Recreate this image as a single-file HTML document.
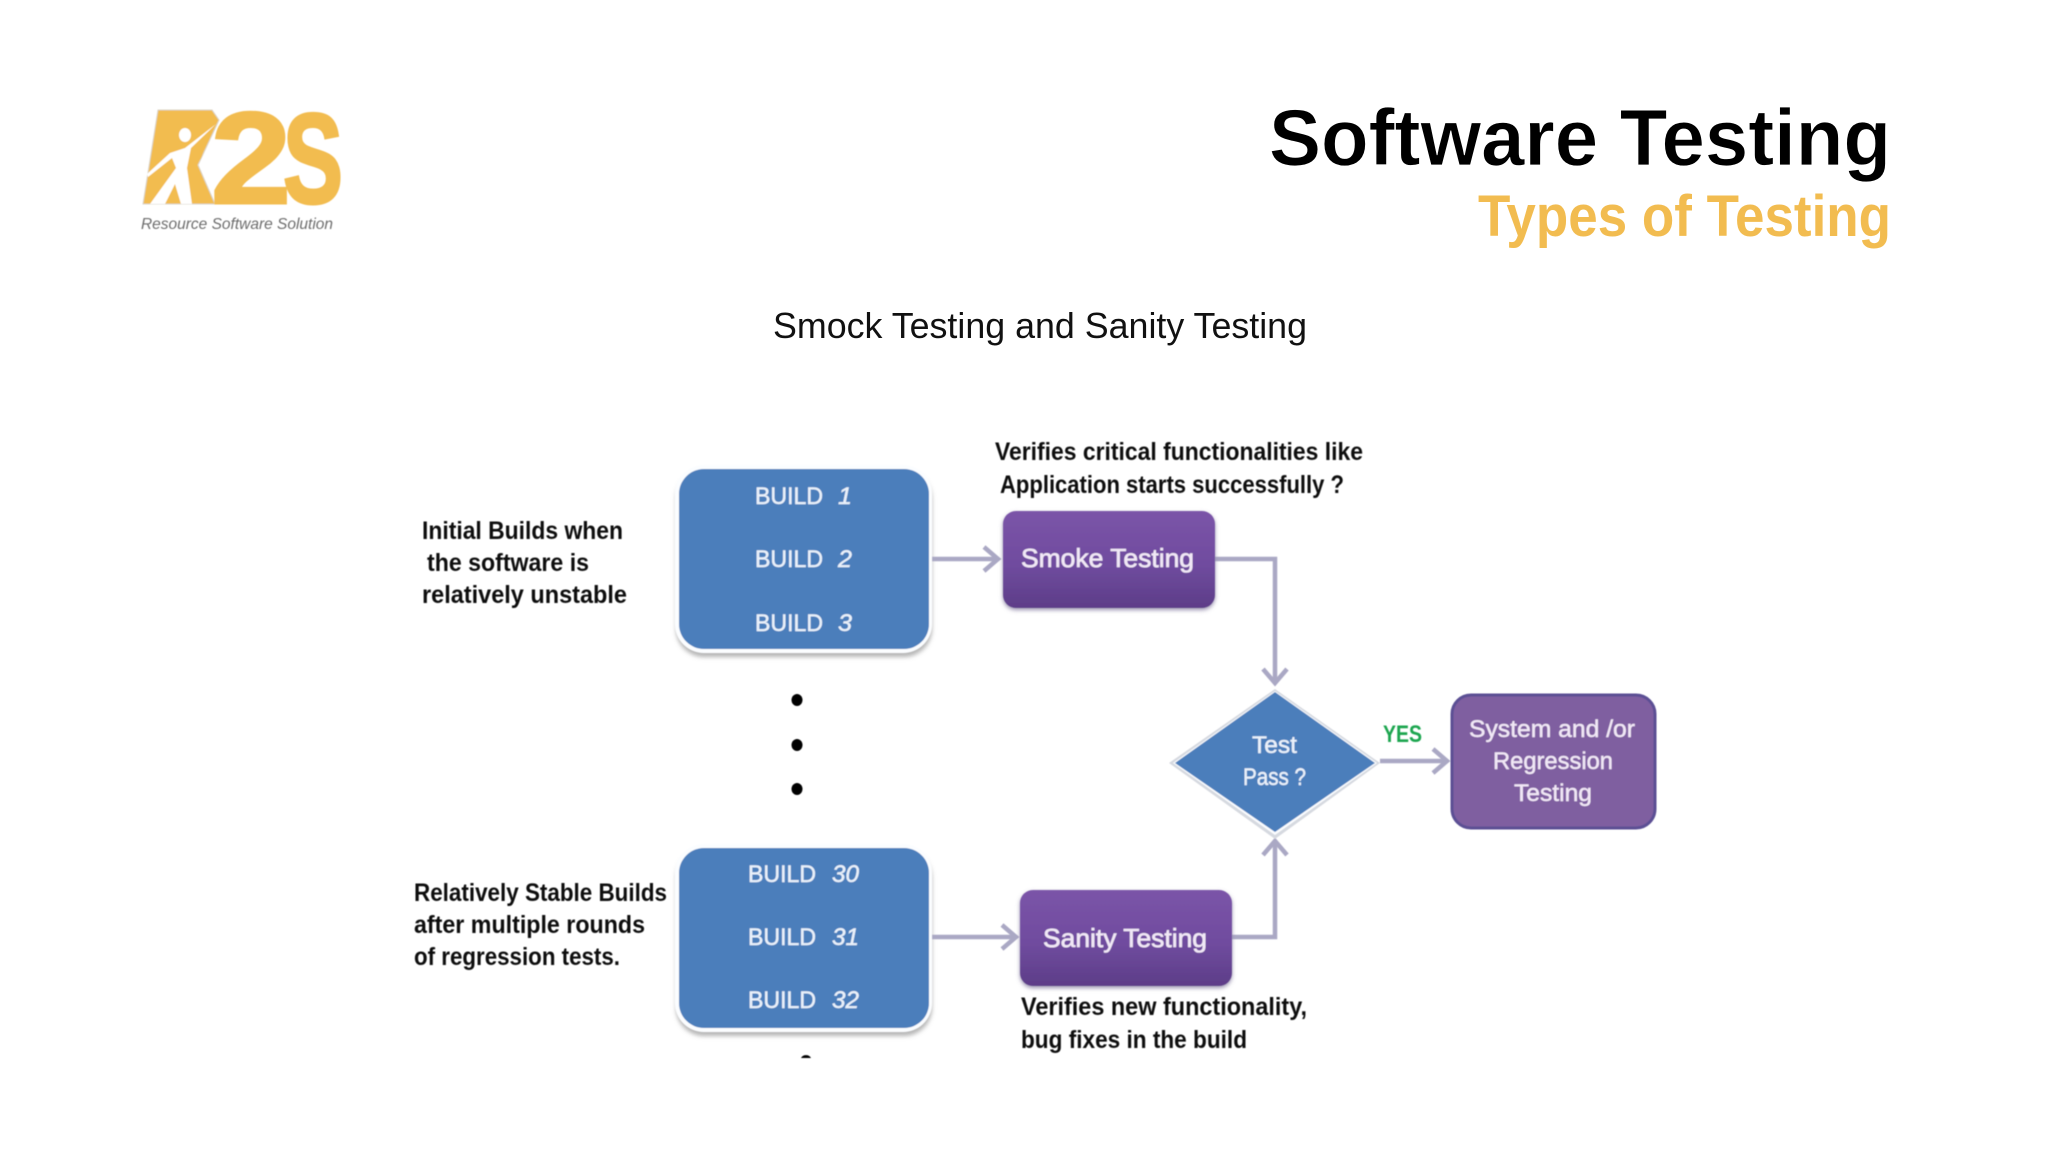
<!DOCTYPE html>
<html lang="en">
<head>
<meta charset="utf-8">
<title>Software Testing - Types of Testing</title>
<style>
html,body{margin:0;padding:0;background:#fff;}
body{width:2048px;height:1152px;overflow:hidden;}
svg{display:block;}
text{font-family:"Liberation Sans",sans-serif;}
</style>
</head>
<body>
<svg width="2048" height="1152" viewBox="0 0 2048 1152" xmlns="http://www.w3.org/2000/svg">
<defs>
<linearGradient id="p" x1="0" y1="0" x2="0" y2="1">
<stop offset="0" stop-color="#7b54a8"/><stop offset=".55" stop-color="#704c9f"/><stop offset="1" stop-color="#5d3d88"/>
</linearGradient>
<filter id="sh" x="-10%" y="-10%" width="120%" height="120%"><feGaussianBlur stdDeviation="2"/></filter>
<filter id="soft" x="-5%" y="-5%" width="110%" height="110%"><feGaussianBlur stdDeviation="0.6"/></filter>
</defs>
<rect width="2048" height="1152" fill="#ffffff"/>

<!-- logo -->
<g filter="url(#soft)">
<polygon points="158,110 212,110 219,120 198,165 215,204 143,204" fill="#f2bc50" stroke="#d9d4c8" stroke-width="1"/>
<text x="160" y="200" font-size="120" font-weight="700" fill="#f2bc50" textLength="48" lengthAdjust="spacingAndGlyphs">R</text>
<text x="211" y="203" font-size="130" font-weight="700" fill="#f2bc50" stroke="#f2bc50" stroke-width="3" textLength="80" lengthAdjust="spacingAndGlyphs">2</text>
<text x="283" y="203" font-size="128" font-weight="700" fill="#f2bc50" stroke="#f2bc50" stroke-width="3" textLength="60" lengthAdjust="spacingAndGlyphs">S</text>
<g fill="#fff">
<ellipse cx="185" cy="135" rx="6" ry="7"/>
<polygon points="216,124 191,148 187,168 192,204 181,204 175,184 165,204 150,204 176,168 172,158 148,177 147,174 170,153 185,148"/>
</g>
<text x="141" y="229" font-size="16" font-style="italic" fill="#6d6d6d" textLength="192" lengthAdjust="spacingAndGlyphs">Resource Software Solution</text>
</g>

<!-- titles -->
<text x="1269" y="165" font-size="80" font-weight="700" fill="#000" stroke="#fff" stroke-width="0.8" textLength="622" lengthAdjust="spacingAndGlyphs">Software Testing</text>
<text x="1478" y="236" font-size="58" font-weight="700" fill="#f2bc50" textLength="413" lengthAdjust="spacingAndGlyphs">Types of Testing</text>
<text x="773" y="338" font-size="36" fill="#111" textLength="534" lengthAdjust="spacingAndGlyphs">Smock Testing and Sanity Testing</text>

<g filter="url(#soft)">
<!-- build boxes -->
<rect x="676" y="471" width="256" height="186" rx="28" fill="#b5b5b5" filter="url(#sh)"/>
<rect x="675" y="465" width="257" height="188" rx="29" fill="#fbfdff"/>
<rect x="679" y="469" width="250" height="180" rx="25" fill="#4b7ebb"/>
<rect x="676" y="850" width="256" height="186" rx="28" fill="#b5b5b5" filter="url(#sh)"/>
<rect x="675" y="844" width="257" height="188" rx="29" fill="#fbfdff"/>
<rect x="679" y="848" width="250" height="180" rx="25" fill="#4b7ebb"/>

<!-- connectors -->
<g fill="none" stroke="#aaa8c4" stroke-width="4.5">
<path d="M932 559H998"/><path d="M984 547L998 559L984 571"/>
<path d="M1215 559H1275V683"/><path d="M1263 669L1275 683L1287 669"/>
<path d="M1380 761H1447"/><path d="M1433 749L1447 761L1433 773"/>
<path d="M932 937H1016"/><path d="M1002 925L1016 937L1002 949"/>
<path d="M1232 937H1275V841"/><path d="M1263 855L1275 841L1287 855"/>
</g>

<!-- process boxes -->
<rect x="1003" y="513" width="212" height="97" rx="13" fill="#9a93b0" filter="url(#sh)"/>
<rect x="1003" y="511" width="212" height="97" rx="13" fill="url(#p)"/>
<rect x="1020" y="892" width="212" height="96" rx="13" fill="#9a93b0" filter="url(#sh)"/>
<rect x="1020" y="890" width="212" height="96" rx="13" fill="url(#p)"/>

<!-- diamond -->
<polygon points="1275,689 1380,763 1275,839 1169,763" fill="#d6d9e0"/>
<polygon points="1275,691 1377,763 1275,835 1173,763" fill="#fbfdff"/>
<polygon points="1275,692 1375,763 1275,832 1175,763" fill="#4b7ebb"/>

<!-- system box -->
<rect x="1452" y="695" width="203" height="133" rx="19" fill="#7f5fa0" stroke="#5b4f94" stroke-width="3"/>

<!-- dots -->
<g fill="#000">
<ellipse cx="797" cy="700" rx="5.5" ry="6"/><ellipse cx="797" cy="745" rx="5.5" ry="6"/><ellipse cx="797" cy="789" rx="5.5" ry="6"/>
<path d="M801 1058a5.5 5 0 0 1 10 0z"/>
</g>

<!-- black labels -->
<g fill="#111" font-size="25" font-weight="700">
<text x="995" y="460" textLength="368" lengthAdjust="spacingAndGlyphs">Verifies critical functionalities like</text>
<text x="1000" y="493" textLength="344" lengthAdjust="spacingAndGlyphs">Application starts successfully ?</text>
<text x="422" y="539" textLength="201" lengthAdjust="spacingAndGlyphs">Initial Builds when</text>
<text x="427" y="571" textLength="162" lengthAdjust="spacingAndGlyphs">the software is</text>
<text x="422" y="603" textLength="205" lengthAdjust="spacingAndGlyphs">relatively unstable</text>
<text x="414" y="901" textLength="253" lengthAdjust="spacingAndGlyphs">Relatively Stable Builds</text>
<text x="414" y="933" textLength="231" lengthAdjust="spacingAndGlyphs">after multiple rounds</text>
<text x="414" y="965" textLength="206" lengthAdjust="spacingAndGlyphs">of regression tests.</text>
<text x="1021" y="1015" textLength="286" lengthAdjust="spacingAndGlyphs">Verifies new functionality,</text>
<text x="1021" y="1048" textLength="226" lengthAdjust="spacingAndGlyphs">bug fixes in the build</text>
</g>

<!-- white labels -->
<g fill="#eaf1fa" font-size="24" stroke="#eaf1fa" stroke-width="0.4">
<text x="755" y="504" textLength="68" lengthAdjust="spacingAndGlyphs">BUILD</text>
<text x="838" y="504" font-style="italic" textLength="14" lengthAdjust="spacingAndGlyphs">1</text>
<text x="755" y="567" textLength="68" lengthAdjust="spacingAndGlyphs">BUILD</text>
<text x="838" y="567" font-style="italic" textLength="14" lengthAdjust="spacingAndGlyphs">2</text>
<text x="755" y="631" textLength="68" lengthAdjust="spacingAndGlyphs">BUILD</text>
<text x="838" y="631" font-style="italic" textLength="14" lengthAdjust="spacingAndGlyphs">3</text>
<text x="748" y="882" textLength="68" lengthAdjust="spacingAndGlyphs">BUILD</text>
<text x="832" y="882" font-style="italic" textLength="27" lengthAdjust="spacingAndGlyphs">30</text>
<text x="748" y="945" textLength="68" lengthAdjust="spacingAndGlyphs">BUILD</text>
<text x="832" y="945" font-style="italic" textLength="27" lengthAdjust="spacingAndGlyphs">31</text>
<text x="748" y="1008" textLength="68" lengthAdjust="spacingAndGlyphs">BUILD</text>
<text x="832" y="1008" font-style="italic" textLength="27" lengthAdjust="spacingAndGlyphs">32</text>
<text x="1252" y="753" textLength="45" lengthAdjust="spacingAndGlyphs">Test</text>
<text x="1243" y="785" textLength="63" lengthAdjust="spacingAndGlyphs">Pass ?</text>
</g>
<g fill="#f1e8f6" font-size="26" stroke="#f1e8f6" stroke-width="0.6">
<text x="1021" y="567" textLength="173" lengthAdjust="spacingAndGlyphs">Smoke Testing</text>
<text x="1043" y="947" textLength="164" lengthAdjust="spacingAndGlyphs">Sanity Testing</text>
</g>
<g fill="#f1e8f6" font-size="24" stroke="#f1e8f6" stroke-width="0.4">
<text x="1469" y="737" textLength="166" lengthAdjust="spacingAndGlyphs">System and /or</text>
<text x="1493" y="769" textLength="120" lengthAdjust="spacingAndGlyphs">Regression</text>
<text x="1514" y="801" textLength="78" lengthAdjust="spacingAndGlyphs">Testing</text>
</g>
<text x="1383" y="742" font-size="24" font-weight="700" fill="#1fa650" textLength="39" lengthAdjust="spacingAndGlyphs">YES</text>
</g>
</svg>
</body>
</html>
